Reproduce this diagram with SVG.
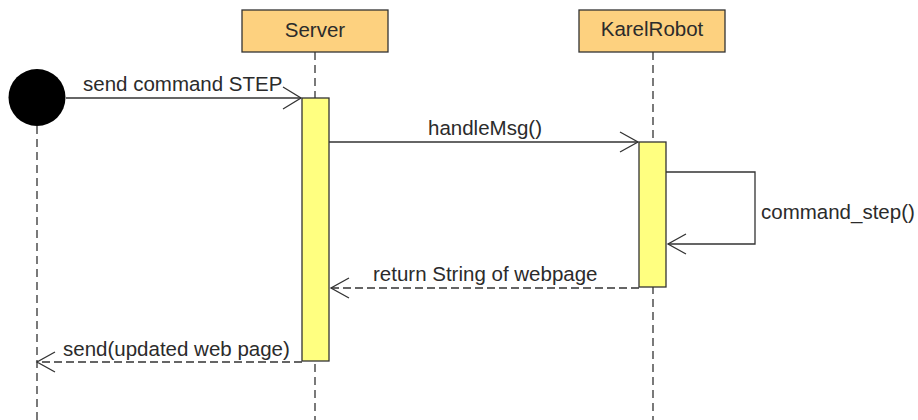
<svg xmlns="http://www.w3.org/2000/svg" width="918" height="420" viewBox="0 0 918 420">
<style>
  .lbl { font-family: "Liberation Sans", Arial, sans-serif; font-size: 20.5px; fill: #2b2b2b; }
  .box { fill: #FDD17F; stroke: #333; stroke-width: 1.3; }
  .act { fill: #FFFF80; stroke: #333; stroke-width: 1.3; }
  .life { stroke: #333; stroke-width: 1.3; stroke-dasharray: 8 5; fill: none; }
  .msg { stroke: #333; stroke-width: 1.3; fill: none; }
  .ret { stroke: #333; stroke-width: 1.3; fill: none; stroke-dasharray: 8 4; }
  .head { stroke: #333; stroke-width: 1.3; fill: none; }
</style>
<rect width="918" height="420" fill="#fff"/>
<g id="actor">
  <line class="life" x1="37" y1="126" x2="37" y2="420"/>
  <circle cx="37" cy="97.5" r="28.5" fill="#000"/>
</g>
<g id="server">
  <line class="life" x1="315" y1="52" x2="315" y2="420"/>
  <rect class="box" x="242" y="10" width="146" height="42"/>
  <text class="lbl" x="315" y="37" text-anchor="middle">Server</text>
  <rect class="act" x="302" y="98" width="27" height="263"/>
</g>
<g id="karelrobot">
  <line class="life" x1="653" y1="52" x2="653" y2="420"/>
  <rect class="box" x="579" y="10" width="146" height="42"/>
  <text class="lbl" x="652" y="36" text-anchor="middle">KarelRobot</text>
  <rect class="act" x="639" y="142" width="27" height="145"/>
</g>
<g id="connectors">
  <line class="msg" x1="66" y1="98" x2="301" y2="98"/>
  <polyline class="head" points="283,87 301,98 283,109"/>
  <text class="lbl" x="83" y="91">send command STEP</text>

  <line class="msg" x1="329" y1="142" x2="638" y2="142"/>
  <polyline class="head" points="620,132 638,142 620,152"/>
  <text class="lbl" x="485" y="135" text-anchor="middle">handleMsg()</text>

  <polyline class="msg" points="666,172 755,172 755,244 668,244"/>
  <polyline class="head" points="686,234 668,244 686,254"/>
  <text class="lbl" x="761" y="219">command_step()</text>

  <line class="ret" x1="639" y1="288" x2="331" y2="288"/>
  <polyline class="head" points="349,278 331,288 349,298"/>
  <text class="lbl" x="373" y="281">return String of webpage</text>

  <line class="ret" x1="302" y1="362" x2="37" y2="362"/>
  <polyline class="head" points="55,352 37,362 55,372"/>
  <text class="lbl" x="63" y="356">send(updated web page)</text>
</g>
</svg>
